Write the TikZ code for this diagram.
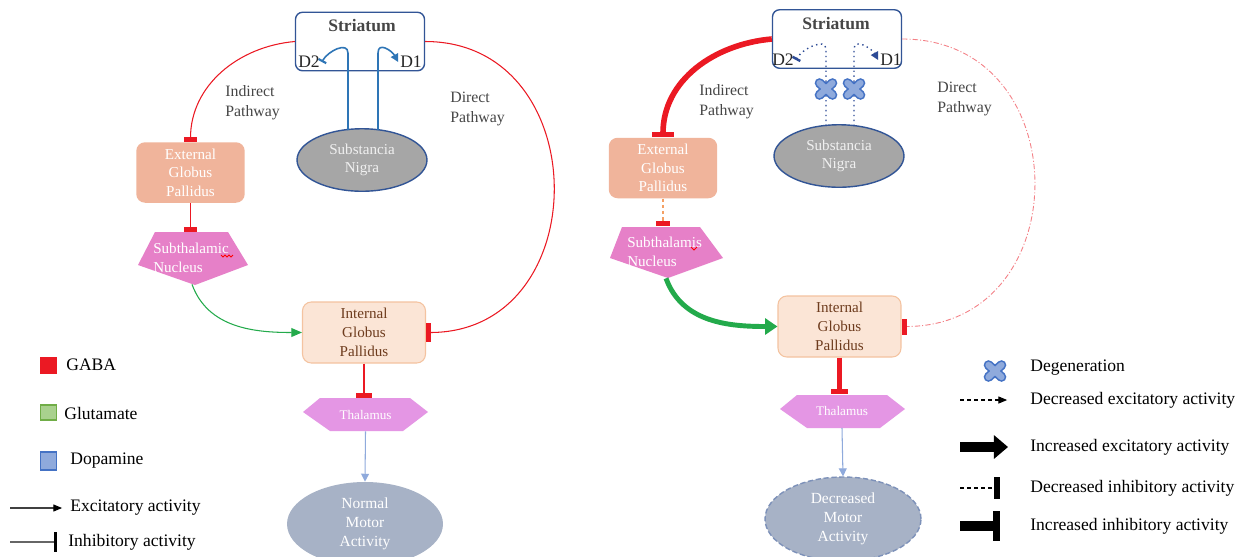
\documentclass[tikz,border=0pt]{standalone}
\usepackage{fontspec}
\setmainfont{Liberation Serif}
\usetikzlibrary{arrows.meta,calc,shapes.geometric}

\definecolor{gaba}{RGB}{235,25,35}
\definecolor{glut}{RGB}{35,170,75}
\definecolor{dopa}{RGB}{46,117,182}
\definecolor{dopadark}{RGB}{45,75,150}
\definecolor{strborder}{RGB}{50,85,150}
\definecolor{nigrafill}{RGB}{166,166,166}
\definecolor{egpfill}{RGB}{240,180,155}
\definecolor{stnfill}{RGB}{230,128,200}
\definecolor{igpfill}{RGB}{251,229,214}
\definecolor{igpborder}{RGB}{244,195,160}
\definecolor{igptext}{RGB}{110,60,30}
\definecolor{thalfill}{RGB}{228,150,228}
\definecolor{motorfill}{RGB}{167,178,198}
\definecolor{motorborder}{RGB}{125,145,185}
\definecolor{pathtext}{RGB}{70,70,70}
\definecolor{crossfill}{RGB}{143,170,220}
\definecolor{crossline}{RGB}{68,114,196}
\definecolor{egpdash}{RGB}{244,160,100}
\definecolor{glufill}{RGB}{169,209,142}
\definecolor{gluline}{RGB}{112,173,71}

\def\degcross(#1,#2){\draw[line width=5.5pt, crossline, line cap=round] (#1,#2) +(-6.5,-6) -- +(6.5,6) +(-6.5,6) -- +(6.5,-6);
	\draw[line width=3.6pt, crossfill, line cap=round] (#1,#2) +(-6.5,-6) -- +(6.5,6) +(-6.5,6) -- +(6.5,-6);}

\tikzset{
	strbox/.style={draw=strborder, line width=0.8pt, rounded corners=4pt, fill=white, minimum width=2.58cm, minimum height=1.17cm},
	strtitle/.style={font=\bfseries\fontsize{10}{12}\selectfont, text=pathtext, inner sep=0pt},
	dlabel/.style={font=\fontsize{10}{12}\selectfont, text=black!85, inner sep=1pt},
	nigra/.style={ellipse, draw=strborder, line width=0.8pt, fill=nigrafill, text=white!94!black, minimum width=2.6cm, minimum height=1.25cm, align=center, inner sep=0pt, font=\fontsize{8.6}{10.5}\selectfont},
	egp/.style={rounded corners=5pt, fill=egpfill, text=white, minimum width=2.17cm, minimum height=1.21cm, align=center, inner sep=0pt, font=\fontsize{8.6}{10.5}\selectfont},
	stn/.style={text=white, text width=1.55cm, align=left, minimum width=2.2cm, minimum height=1.04cm, inner sep=0pt, font=\fontsize{8.6}{10.5}\selectfont},
	igp/.style={rounded corners=5pt, draw=igpborder, line width=0.6pt, fill=igpfill, text=igptext, minimum width=2.46cm, minimum height=1.22cm, align=center, inner sep=0pt, font=\fontsize{8.6}{10.8}\selectfont},
	thal/.style={text=white, minimum width=2.5cm, minimum height=0.66cm, inner sep=0pt, font=\fontsize{7.5}{9}\selectfont},
	motor/.style={ellipse, fill=motorfill, text=white, minimum width=3.12cm, minimum height=1.68cm, align=center, inner sep=0pt, font=\fontsize{8.8}{10.8}\selectfont},
	pathlabel/.style={text=pathtext, align=left, anchor=west, inner sep=0pt, font=\fontsize{9}{11.5}\selectfont},
	legtext/.style={anchor=west, inner sep=0pt, font=\fontsize{10}{12}\selectfont},
	legsq/.style={minimum width=0.32cm, minimum height=0.3cm, inner sep=0pt, line width=0.8pt},
	gabathin/.style={draw=gaba, line width=0.6pt, -{Rectangle[length=2.6pt,width=#1]}},
	gabathin/.default=7.5pt,
	gabathick/.style={draw=gaba, line width=3.2pt, -{Rectangle[length=3.2pt,width=#1]}},
	gabathick/.default=12pt,
	gabadashdot/.style={draw=gaba!55, line width=0.5pt, dash pattern=on 3pt off 1.2pt on 0.6pt off 1.2pt, -{Rectangle[length=2.8pt,width=9pt,color=gaba]}},
	egpdashline/.style={draw=egpdash, line width=0.8pt, dash pattern=on 2pt off 1.5pt, -{Rectangle[length=2.6pt,width=7.5pt,color=gaba]}},
	glutthin/.style={draw=glut, line width=0.6pt, -{Triangle[length=6pt,width=5pt]}},
	glutthick/.style={draw=glut, line width=2.8pt, -{Triangle[length=7pt,width=9pt]}},
	thalarrow/.style={draw=crossfill, line width=0.6pt, -{Triangle[length=4.5pt,width=4.5pt]}},
	dopaline/.style={draw=dopa, line width=0.9pt},
	dopadot/.style={draw=dopadark, line width=0.8pt, dotted},
	legexc/.style={draw=black!75, line width=0.6pt, -{Triangle[length=5pt,width=4pt,color=black]}},
	leginh/.style={draw=black!60, line width=0.6pt, -{Rectangle[length=1.7pt,width=11pt,color=black]}},
	legdecexc/.style={draw=black, line width=0.6pt, dash pattern=on 2.3pt off 1.7pt, -{Triangle[length=5pt,width=4pt]}},
	legincexc/.style={draw=black, line width=5.5pt, -{Triangle[length=8pt,width=13pt]}},
	legdecinh/.style={draw=black, line width=0.6pt, dash pattern=on 2.3pt off 1.7pt, -{Rectangle[length=3.4pt,width=13pt]}},
	leginchinh/.style={draw=black, line width=5.5pt, -{Rectangle[length=4pt,width=17.5pt]}}
}

\begin{document}
\begin{tikzpicture}[x=0.02cm,y=-0.02cm]
			%%%%% START %%%%%
			\useasboundingbox[fill=white] (0,0) rectangle (1242,556);
			
			%%%%% NORMAL %%%%%
			\node[strbox] (strL) at (360,41.5) {};
			\node[strtitle] (strLtxt) at (362,26) {Striatum};
			\node[dlabel] (d2L) at (309,62) {D2};
			\node[dlabel] (d1L) at (411,62) {D1};
			\node[nigra] (snL) at (362,160) {Substancia\\Nigra};
			
			\node[egp] (egpL) at (190.5,172.5) {External\\Globus\\Pallidus};
			\fill[stnfill] (155,232) -- (228,232) -- (248,265) -- (195,285) -- (138,265) -- cycle;
			\node[stn] (stnL) at (192,258) {Subthalamic\\Nucleus};
			\draw[red, line width=0.5pt] (221,255) -- (223,257) -- (225,255) -- (227,257) -- (229,255) -- (231,257) -- (233,255);
			
			\node[igp] (igpL) at (364,332.5) {Internal\\Globus\\Pallidus};
			\fill[thalfill] (320,398) -- (410,398) -- (428,412) -- (403,431) -- (330,431) -- (303,412) -- cycle;
			\node[thal] (thL) at (365.5,414.5) {Thalamus};
			\node[motor] (motL) at (365,524) {Normal\\Motor\\Activity};
			
			\node[pathlabel] (indL) at (225,102.5) {Indirect\\Pathway};
			\node[pathlabel] (dirL) at (450,109) {Direct\\Pathway};
			
			\draw[dopaline, -{Bar[width=5pt,line width=1.2pt]}] ($(snL.north)+(-14,2)$) -- ++(0,-77) .. controls +(0,-12) and +(6,-11) .. (d2L.east);
			\draw[dopaline, -{Triangle[length=4.5pt,width=4.5pt]}] ($(snL.north)+(16,2)$) -- ++(0,-77) .. controls +(0,-12) and +(-6,-11) .. (d1L.west);
			
			\draw[gabathin] (strL.west) to[out=185,in=90] (egpL.north);
			\draw[gabathin] (egpL.south) -- (egpL.south |- stnL.north);
			\draw[glutthin] (stnL.south) to[out=-70,in=180] (igpL.west);
			\draw[gabathin=10.5pt] (strL.east) to[out=0,in=0,looseness=1.5] (igpL.east);
			\draw[gabathin=9pt] (igpL.south) -- (igpL.south |- thL.north);
			\draw[thalarrow] (thL.south) -- (motL.north);
			
			%%%%% PARKINSON %%%%%
			\node[strbox] (strR) at (837,39) {};
			\node[strtitle] (strRtxt) at (836,24) {Striatum};
			\node[dlabel] (d2R) at (783,60) {D2};
			\node[dlabel] (d1R) at (891,60) {D1};
			\node[nigra] (snR) at (839,156) {Substancia\\Nigra};
			
			\node[egp] (egpR) at (663,168) {External\\Globus\\Pallidus};
			\fill[stnfill] (622,227) -- (700,227) -- (723,258) -- (668,278) -- (610,258) -- cycle;
			\node[stn] (stnR) at (666,252) {Subthalamis\\Nucleus};
			\draw[red, line width=0.5pt] (691,247) -- (694,250) -- (697,247);
			
			\node[igp] (igpR) at (839.5,326.5) {Internal\\Globus\\Pallidus};
			\fill[thalfill] (797,395) -- (887,395) -- (905,409) -- (880,428) -- (807,428) -- (780,409) -- cycle;
			\node[thal] (thR) at (842,411) {Thalamus};
			\node[motor, draw=motorborder, line width=0.8pt, dash pattern=on 3pt off 1.5pt] (motR) at (843,519) {Decreased\\Motor\\Activity};
			
			\node[pathlabel] (indR) at (699,102) {Indirect\\Pathway};
			\node[pathlabel] (dirR) at (937,99) {Direct\\Pathway};
			
			\draw[dopadot, -{Bar[width=5pt,line width=1.4pt]}] ($(snR.north)+(-13,2)$) -- ++(0,-77) .. controls +(0,-12) and +(6,-11) .. (d2R.east);
			\draw[dopadot, -{Triangle[length=4.5pt,width=4.5pt]}] ($(snR.north)+(15,2)$) -- ++(0,-77) .. controls +(0,-12) and +(-6,-11) .. (d1R.west);
			\degcross(826,89)
			\degcross(854,89)
			
			\draw[gabathick] (strR.west) to[out=185,in=90] (egpR.north);
			\draw[egpdashline] (egpR.south) -- (egpR.south |- stnR.north);
			\draw[glutthick] (stnR.south) to[out=-70,in=180] (igpR.west);
			\draw[gabadashdot] (strR.east) to[out=0,in=0,looseness=1.57] (igpR.east);
			\draw[gabathick=10pt] (igpR.south) -- (igpR.south |- thR.north);
			\draw[thalarrow] (thR.south) -- (motR.north);
			
			%%%%% LEGEND %%%%%
			\node[legsq, fill=gaba, draw=gaba] (sqGaba) at (48.5,365.5) {};
			\node[legtext] (txtGaba) at (66,365) {GABA};
			\node[legsq, fill=glufill, draw=gluline] (sqGlu) at (48.5,412.5) {};
			\node[legtext] (txtGlu) at (64,413) {Glutamate};
			\node[legsq, fill=crossfill, draw=crossline, minimum height=0.36cm] (sqDopa) at (48.5,461) {};
			\node[legtext] (txtDopa) at (70,461) {Dopamine};
			\coordinate (excStart) at (10,508);
			\node[legtext] (txtExc) at (70,508) {Excitatory activity};
			\draw[legexc, shorten >=4.5pt] (excStart) -- (txtExc.west);
			\coordinate (inhStart) at (10,542);
			\node[legtext] (txtInh) at (68,542) {Inhibitory activity};
			\draw[leginh, shorten >=6.2pt] (inhStart) -- (txtInh.west);
			
			\degcross(995,371)
			\node[legtext] (txtDeg) at (1030,368) {Degeneration};
			\coordinate (decExcStart) at (960,400);
			\node[legtext] (txtDecExc) at (1030,400) {Decreased excitatory activity};
			\draw[legdecexc, shorten >=13pt] (decExcStart) -- (txtDecExc.west);
			\coordinate (incExcStart) at (960,447);
			\node[legtext] (txtIncExc) at (1030,447) {Increased excitatory activity};
			\draw[legincexc, shorten >=12.5pt] (incExcStart) -- (txtIncExc.west);
			\coordinate (decInhStart) at (960,488);
			\node[legtext] (txtDecInh) at (1030,488) {Decreased inhibitory activity};
			\draw[legdecinh, shorten >=17pt] (decInhStart) -- (txtDecInh.west);
			\coordinate (incInhStart) at (960,526);
			\node[legtext] (txtIncInh) at (1030,526) {Increased inhibitory activity};
			\draw[leginchinh, shorten >=17pt] (incInhStart) -- (txtIncInh.west);
			
			%%%%% END %%%%%
\end{tikzpicture}
\end{document}
